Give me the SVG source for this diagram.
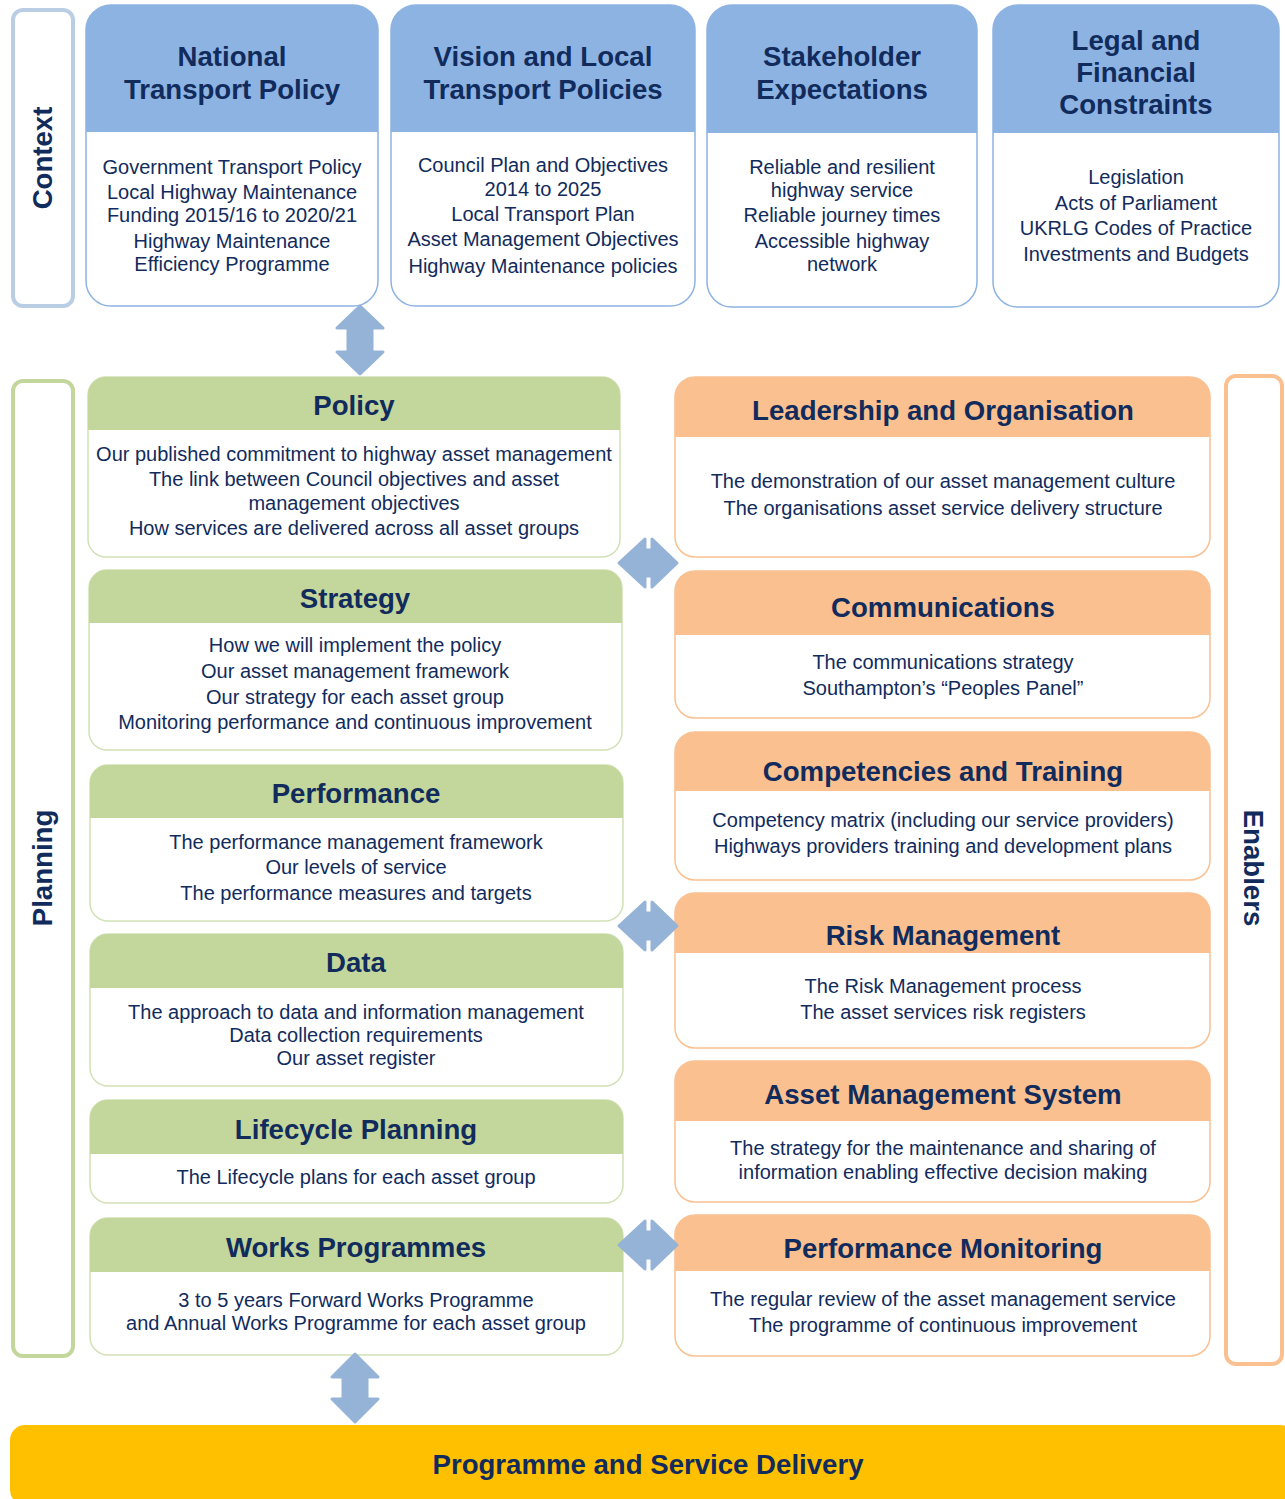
<svg xmlns="http://www.w3.org/2000/svg" width="1285" height="1499" viewBox="0 0 1285 1499">
<style>
text{font-family:"Liberation Sans",Arial,sans-serif;fill:#112b5c;text-anchor:middle}
.t{font-size:27.6px;font-weight:bold}
.b{font-size:20px}
.hb{fill:#8db3e2}
.ob{fill:#fff;stroke:#8db3e2;stroke-width:1.5}
.hg{fill:#c3d69b}
.og{fill:#fff;stroke:#d2e1b5;stroke-width:1.5}
.ho{fill:#fac090}
.oo{fill:#fff;stroke:#fac090;stroke-width:1.5}
.arr{fill:#95b3d7;stroke:#95b3d7;stroke-width:3;stroke-linejoin:round}
</style>

<g id="context-bar">
<rect x="13" y="10" width="60" height="296" rx="10" fill="none" stroke="#b9cde5" stroke-width="4"/>
<text class="t" transform="translate(52,158) rotate(-90)">Context</text>
</g>
<g id="planning-bar">
<rect x="13" y="381" width="60" height="975" rx="10" fill="none" stroke="#c3d69b" stroke-width="4"/>
<text class="t" transform="translate(52,868) rotate(-90)">Planning</text>
</g>
<g id="enablers-bar">
<rect x="1226" y="376" width="56" height="988" rx="10" fill="none" stroke="#fac090" stroke-width="4"/>
<text class="t" transform="translate(1244,868) rotate(90)">Enablers</text>
</g>

<!-- Context boxes -->
<g id="national">
<rect class="ob" x="86" y="5" width="292" height="301" rx="25"/>
<path class="hb" d="M86,132 V30 A25,25 0 0 1 111,5 H353 A25,25 0 0 1 378,30 V132 Z"/>
<text class="t" x="232" y="66">National</text>
<text class="t" x="232" y="99">Transport Policy</text>
<text class="b" x="232" y="174">Government Transport Policy</text>
<text class="b" x="232" y="199">Local Highway Maintenance</text>
<text class="b" x="232" y="222">Funding 2015/16 to 2020/21</text>
<text class="b" x="232" y="248">Highway Maintenance</text>
<text class="b" x="232" y="271">Efficiency Programme</text>
</g>
<g id="vision">
<rect class="ob" x="391" y="5" width="304" height="301" rx="25"/>
<path class="hb" d="M391,132 V30 A25,25 0 0 1 416,5 H670 A25,25 0 0 1 695,30 V132 Z"/>
<text class="t" x="543" y="66">Vision and Local</text>
<text class="t" x="543" y="99">Transport Policies</text>
<text class="b" x="543" y="172">Council Plan and Objectives</text>
<text class="b" x="543" y="196">2014 to 2025</text>
<text class="b" x="543" y="221">Local Transport Plan</text>
<text class="b" x="543" y="246">Asset Management Objectives</text>
<text class="b" x="543" y="273">Highway Maintenance policies</text>
</g>
<g id="stakeholder">
<rect class="ob" x="707" y="5" width="270" height="302" rx="25"/>
<path class="hb" d="M707,133 V30 A25,25 0 0 1 732,5 H952 A25,25 0 0 1 977,30 V133 Z"/>
<text class="t" x="842" y="66">Stakeholder</text>
<text class="t" x="842" y="99">Expectations</text>
<text class="b" x="842" y="174">Reliable and resilient</text>
<text class="b" x="842" y="197">highway service</text>
<text class="b" x="842" y="222">Reliable journey times</text>
<text class="b" x="842" y="248">Accessible highway</text>
<text class="b" x="842" y="271">network</text>
</g>
<g id="legal">
<rect class="ob" x="993" y="5" width="286" height="302" rx="25"/>
<path class="hb" d="M993,133 V30 A25,25 0 0 1 1018,5 H1254 A25,25 0 0 1 1279,30 V133 Z"/>
<text class="t" x="1136" y="50">Legal and</text>
<text class="t" x="1136" y="82">Financial</text>
<text class="t" x="1136" y="114">Constraints</text>
<text class="b" x="1136" y="184">Legislation</text>
<text class="b" x="1136" y="210">Acts of Parliament</text>
<text class="b" x="1136" y="235">UKRLG Codes of Practice</text>
<text class="b" x="1136" y="261">Investments and Budgets</text>
</g>

<!-- Planning boxes -->
<g id="policy">
<rect class="og" x="88" y="377" width="532" height="180" rx="18"/>
<path class="hg" d="M88,430 V395 A18,18 0 0 1 106,377 H602 A18,18 0 0 1 620,395 V430 Z"/>
<text class="t" x="354" y="415">Policy</text>
<text class="b" x="354" y="461">Our published commitment to highway asset management</text>
<text class="b" x="354" y="486">The link between Council objectives and asset</text>
<text class="b" x="354" y="510">management objectives</text>
<text class="b" x="354" y="535">How services are delivered across all asset groups</text>
</g>
<g id="strategy">
<rect class="og" x="89" y="570" width="533" height="180" rx="18"/>
<path class="hg" d="M89,623 V588 A18,18 0 0 1 107,570 H604 A18,18 0 0 1 622,588 V623 Z"/>
<text class="t" x="355" y="608">Strategy</text>
<text class="b" x="355" y="652">How we will implement the policy</text>
<text class="b" x="355" y="678">Our asset management framework</text>
<text class="b" x="355" y="704">Our strategy for each asset group</text>
<text class="b" x="355" y="729">Monitoring performance and continuous improvement</text>
</g>
<g id="performance">
<rect class="og" x="90" y="765" width="533" height="156" rx="18"/>
<path class="hg" d="M90,818 V783 A18,18 0 0 1 108,765 H605 A18,18 0 0 1 623,783 V818 Z"/>
<text class="t" x="356" y="803">Performance</text>
<text class="b" x="356" y="849">The performance management framework</text>
<text class="b" x="356" y="874">Our levels of service</text>
<text class="b" x="356" y="900">The performance measures and targets</text>
</g>
<g id="data">
<rect class="og" x="90" y="934" width="533" height="152" rx="18"/>
<path class="hg" d="M90,988 V952 A18,18 0 0 1 108,934 H605 A18,18 0 0 1 623,952 V988 Z"/>
<text class="t" x="356" y="972">Data</text>
<text class="b" x="356" y="1019">The approach to data and information management</text>
<text class="b" x="356" y="1042">Data collection requirements</text>
<text class="b" x="356" y="1065">Our asset register</text>
</g>
<g id="lifecycle">
<rect class="og" x="90" y="1100" width="533" height="103" rx="18"/>
<path class="hg" d="M90,1154 V1118 A18,18 0 0 1 108,1100 H605 A18,18 0 0 1 623,1118 V1154 Z"/>
<text class="t" x="356" y="1139">Lifecycle Planning</text>
<text class="b" x="356" y="1184">The Lifecycle plans for each asset group</text>
</g>
<g id="works">
<rect class="og" x="90" y="1218" width="533" height="137" rx="18"/>
<path class="hg" d="M90,1272 V1236 A18,18 0 0 1 108,1218 H605 A18,18 0 0 1 623,1236 V1272 Z"/>
<text class="t" x="356" y="1257">Works Programmes</text>
<text class="b" x="356" y="1307">3 to 5 years Forward Works Programme</text>
<text class="b" x="356" y="1330">and Annual Works Programme for each asset group</text>
</g>

<!-- Enabler boxes -->
<g id="leadership">
<rect class="oo" x="675" y="377" width="535" height="180" rx="20"/>
<path class="ho" d="M675,437 V397 A20,20 0 0 1 695,377 H1190 A20,20 0 0 1 1210,397 V437 Z"/>
<text class="t" x="943" y="420">Leadership and Organisation</text>
<text class="b" x="943" y="488">The demonstration of our asset management culture</text>
<text class="b" x="943" y="515">The organisations asset service delivery structure</text>
</g>
<g id="communications">
<rect class="oo" x="675" y="571" width="535" height="147" rx="20"/>
<path class="ho" d="M675,635 V591 A20,20 0 0 1 695,571 H1190 A20,20 0 0 1 1210,591 V635 Z"/>
<text class="t" x="943" y="617">Communications</text>
<text class="b" x="943" y="669">The communications strategy</text>
<text class="b" x="943" y="695">Southampton’s “Peoples Panel”</text>
</g>
<g id="competencies">
<rect class="oo" x="675" y="732" width="535" height="148" rx="20"/>
<path class="ho" d="M675,791 V752 A20,20 0 0 1 695,732 H1190 A20,20 0 0 1 1210,752 V791 Z"/>
<text class="t" x="943" y="781">Competencies and Training</text>
<text class="b" x="943" y="827">Competency matrix (including our service providers)</text>
<text class="b" x="943" y="853">Highways providers training and development plans</text>
</g>
<g id="risk">
<rect class="oo" x="675" y="893" width="535" height="155" rx="20"/>
<path class="ho" d="M675,953 V913 A20,20 0 0 1 695,893 H1190 A20,20 0 0 1 1210,913 V953 Z"/>
<text class="t" x="943" y="945">Risk Management</text>
<text class="b" x="943" y="993">The Risk Management process</text>
<text class="b" x="943" y="1019">The asset services risk registers</text>
</g>
<g id="ams">
<rect class="oo" x="675" y="1061" width="535" height="141" rx="20"/>
<path class="ho" d="M675,1121 V1081 A20,20 0 0 1 695,1061 H1190 A20,20 0 0 1 1210,1081 V1121 Z"/>
<text class="t" x="943" y="1104">Asset Management System</text>
<text class="b" x="943" y="1155">The strategy for the maintenance and sharing of</text>
<text class="b" x="943" y="1179">information enabling effective decision making</text>
</g>
<g id="perfmon">
<rect class="oo" x="675" y="1215" width="535" height="141" rx="20"/>
<path class="ho" d="M675,1271 V1235 A20,20 0 0 1 695,1215 H1190 A20,20 0 0 1 1210,1235 V1271 Z"/>
<text class="t" x="943" y="1258">Performance Monitoring</text>
<text class="b" x="943" y="1306">The regular review of the asset management service</text>
<text class="b" x="943" y="1332">The programme of continuous improvement</text>
</g>

<g id="delivery">
<rect x="10" y="1425" width="1285" height="80" rx="15" fill="#ffc000"/>
<text class="t" x="648" y="1474">Programme and Service Delivery</text>
</g>

<g id="connectors">
<path class="arr" d="M360,306 L337,328 H348 V352 H337 L360,374 L383,352 H372 V328 H383 Z"/>
<path class="arr" d="M355,1354 L332,1377 H343 V1399 H332 L355,1422 L378,1399 H367 V1377 H378 Z"/>
<path class="arr" d="M619,563 L645,539 V550 H652 V539 L677,563 L652,587 V576 H645 V587 Z"/>
<path class="arr" d="M619,926 L645,902 V913 H652 V902 L677,926 L652,950 V939 H645 V950 Z"/>
<path class="arr" d="M619,1245 L645,1221 V1232 H652 V1221 L677,1245 L652,1269 V1258 H645 V1269 Z"/>
</g>
</svg>
